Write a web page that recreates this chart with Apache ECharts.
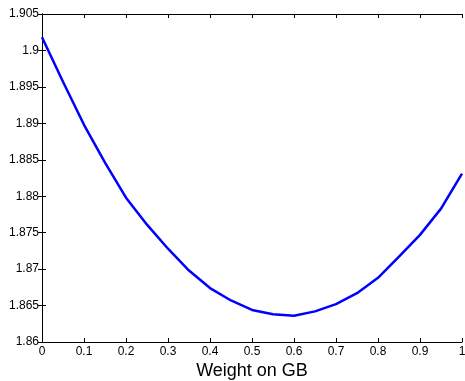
<!DOCTYPE html>
<html>
<head>
<meta charset="utf-8">
<script src="https://cdn.jsdelivr.net/npm/echarts@6/dist/echarts.min.js"></script>
<style>
  html, body { margin: 0; padding: 0; background: #fff; }
  #chart { width: 465px; height: 381px; }
</style>
</head>
<body>
<div id="chart"></div>
<script>
const weights = [0, 0.05, 0.1, 0.15, 0.2, 0.25, 0.3, 0.35, 0.4, 0.45, 0.5,
  0.55, 0.6, 0.65, 0.7, 0.75, 0.8, 0.85, 0.9, 0.95, 1];
const values = [1.9018, 1.8957, 1.8898, 1.8846, 1.8798, 1.8761, 1.8728, 1.8698,
  1.8674, 1.8657, 1.8644, 1.8638, 1.8636, 1.8642, 1.8652, 1.8667, 1.8688,
  1.8717, 1.8747, 1.8783, 1.8831];

const font = "Liberation Sans, Arial, sans-serif";
const fmt = (v) => String(parseFloat(v.toFixed(3)));

const baseAxis = {
  axisLine: { show: true, lineStyle: { color: "#000", width: 1 } },
  axisTick: { show: true, inside: true, length: 4, lineStyle: { color: "#000" } },
  splitLine: { show: false },
};

const chart = echarts.init(document.getElementById("chart"));
chart.setOption({
  animation: false,
  grid: { left: 42, right: 3, top: 14, bottom: 39, outerBoundsMode: "none" },
  xAxis: [
    {
      ...baseAxis,
      type: "value",
      min: 0,
      max: 1,
      interval: 0.1,
      name: "Weight on GB",
      nameLocation: "middle",
      nameGap: 20,
      nameMoveOverlap: false,
      nameTextStyle: { fontFamily: font, fontSize: 18, color: "#000" },
      axisLabel: { fontFamily: font, fontSize: 12, color: "#000", margin: 4, formatter: fmt },
    },
    {
      ...baseAxis,
      type: "value",
      position: "top",
      min: 0,
      max: 1,
      interval: 0.1,
      axisLabel: { show: false },
    },
  ],
  yAxis: [
    {
      ...baseAxis,
      type: "value",
      min: 1.86,
      max: 1.905,
      interval: 0.005,
      axisLabel: { fontFamily: font, fontSize: 12, color: "#000", margin: 3, formatter: fmt },
    },
    {
      ...baseAxis,
      type: "value",
      position: "right",
      min: 1.86,
      max: 1.905,
      interval: 0.005,
      axisLabel: { show: false },
    },
  ],
  series: [
    {
      type: "line",
      data: weights.map((w, i) => [w, values[i]]),
      showSymbol: false,
      lineStyle: { color: "#0000ff", width: 2.5 },
      itemStyle: { color: "#0000ff" },
    },
  ],
});
</script>
</body>
</html>
